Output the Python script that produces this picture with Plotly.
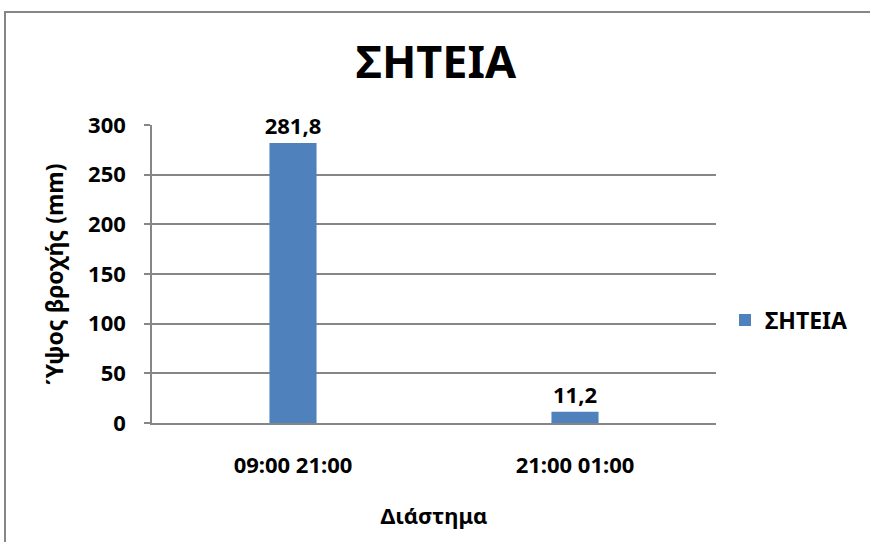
import plotly.graph_objects as go

categories = ["09:00 21:00", "21:00 01:00"]
values = [281.8, 11.2]
series_name = "ΣΗΤΕΙΑ"
title_text = "ΣΗΤΕΙΑ"
y_title = "Ύψος βροχής (mm)"
x_title = "Διάστημα"
y_ticks = [0, 50, 100, 150, 200, 250, 300]

FONT = "Noto Sans, Open Sans, sans-serif"
W, H = 870, 542
L, R, T, B = 152, 716, 125, 423
pw, ph = R - L, B - T

def px_x(x):
    return (x - L) / pw

def px_y(y):
    return (B - y) / ph

def f(size):
    return dict(family=FONT, size=size, color="black", weight="bold")

fig = go.Figure()
fig.add_trace(go.Bar(
    x=categories, y=values, name=series_name,
    marker=dict(color="#4F81BD", line=dict(width=0)),
    texttemplate="%{y:.1f}", textposition="outside",
    textfont=f(22), constraintext="none",
    cliponaxis=False,
    showlegend=True,
))

fig.update_layout(
    width=W, height=H,
    margin=dict(l=L, r=W - R, t=T, b=H - B, pad=0),
    paper_bgcolor="white", plot_bgcolor="white",
    separators=",.",
    bargap=0.833,
    font=dict(family=FONT, color="black"),
    title=dict(text=title_text, x=436 / W, xanchor="center",
               y=1 - 62 / H, yanchor="middle", font=f(45)),
    showlegend=True,
    legend=dict(x=px_x(725), y=px_y(320), xanchor="left", yanchor="middle",
                font=f(23), bgcolor="rgba(0,0,0,0)", itemwidth=30),
    xaxis=dict(
        showline=True, linecolor="#868686", linewidth=1.5,
        ticks="", tickfont=f(22),
        ticklabelstandoff=22,
        title=dict(text=x_title, font=f(22), standoff=30),
    ),
    yaxis=dict(
        range=[0, 300], tickvals=y_ticks,
        showgrid=True, gridcolor="#868686", gridwidth=1.5,
        showline=True, linecolor="#868686", linewidth=1.5,
        ticks="outside", ticklen=6, tickcolor="#868686", tickwidth=1.5,
        tickfont=f(22), ticklabelstandoff=14,
        zeroline=False,
        title=dict(text=y_title, font=f(23), standoff=18),
    ),
)

# chart border
fig.add_shape(type="rect", xref="paper", yref="paper",
              x0=px_x(5), x1=px_x(880), y0=px_y(560), y1=px_y(12),
              line=dict(color="#868686", width=2), fillcolor="rgba(0,0,0,0)", layer="below")

fig.write_html("out.html", config={"displayModeBar": False},
               post_script="document.body.style.margin='0';")
